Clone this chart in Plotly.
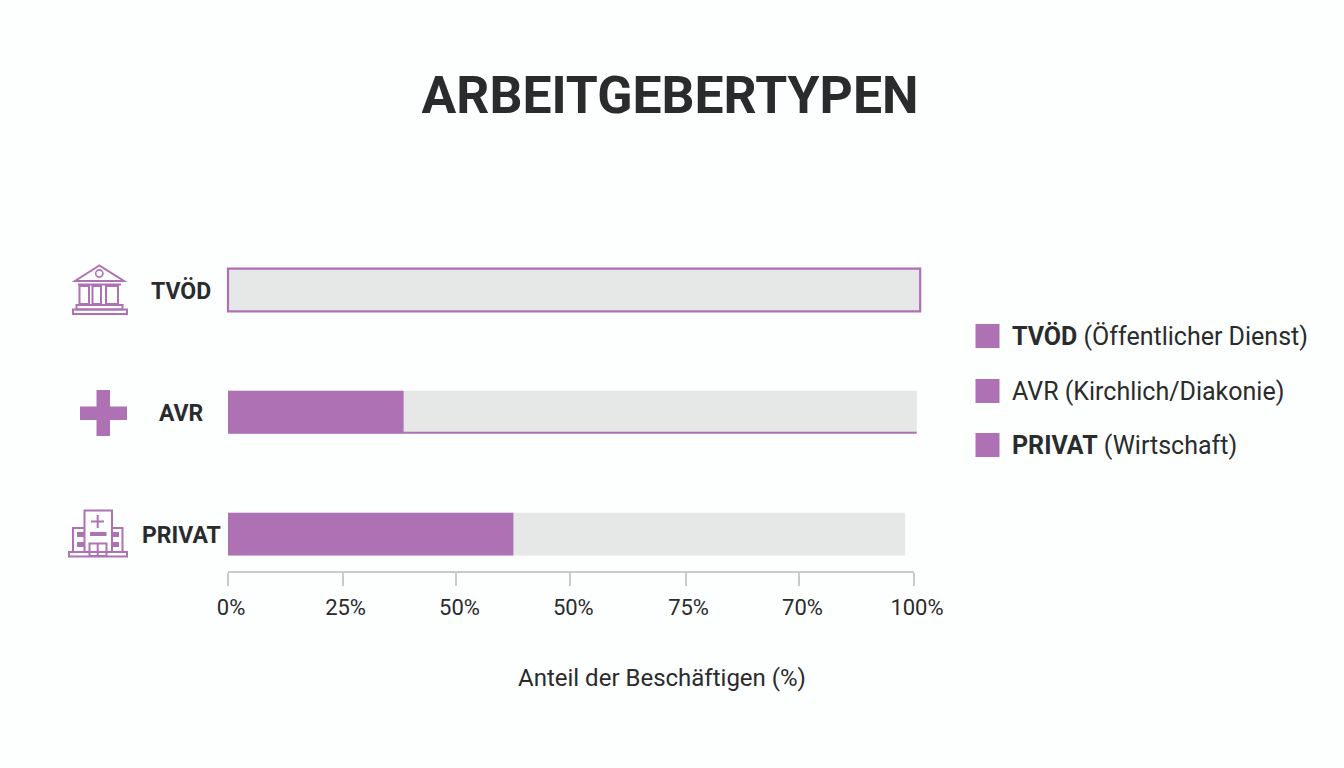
import plotly.graph_objects as go

categories = [0, 1, 2]
category_labels = ["TVÖD", "AVR", "PRIVAT"]
background_values = [100.9, 100.4, 98.7]
share_values = [0, 25.6, 41.6]
tick_positions = [0, 16.7, 33.3, 49.9, 66.7, 83.3, 100]
tick_labels = ["0%", "25%", "50%", "50%", "75%", "70%", "100%"]
legend_labels = ["<b>TVÖD</b> (Öffentlicher Dienst)", "AVR (Kirchlich/Diakonie)", "<b>PRIVAT</b> (Wirtschaft)"]

PURPLE = "#AE72B4"
GREY = "#E6E7E7"
DARK = "#2A2B2D"
BG = "#FDFEFE"
# Visible tick axis spans AX0..AX1; the plotting frame is a little wider so outlined bars fit.
AX0, AX1 = 228, 914
L, R, T, B = 221, 926, 229, 571
FONT = "Roboto"
PER_UNIT = (AX1 - AX0) / 100


def fx(x):
    return (x - L) / (R - L)


def fy(y):
    return (B - y) / (B - T)


def rect(x0, y0, x1, y1, fill=None, width=2):
    return dict(type="rect", xref="paper", yref="paper", x0=fx(x0), x1=fx(x1), y0=fy(y0), y1=fy(y1),
                fillcolor=fill if fill else "rgba(0,0,0,0)",
                line=dict(color=PURPLE, width=0 if fill else width), layer="above")


def path(points, closed=False, width=2):
    d = "M " + " L ".join(f"{fx(x):.5f},{fy(y):.5f}" for x, y in points) + (" Z" if closed else "")
    return dict(type="path", xref="paper", yref="paper", path=d, line=dict(color=PURPLE, width=width),
                fillcolor="rgba(0,0,0,0)", layer="above")


def circle(cx, cy, r):
    return dict(type="circle", xref="paper", yref="paper", x0=fx(cx - r), x1=fx(cx + r), y0=fy(cy + r), y1=fy(cy - r),
                line=dict(color=PURPLE, width=1.6), layer="above")


fig = go.Figure()
fig.add_trace(go.Bar(
    y=categories, x=background_values, orientation="h", width=0.35, xaxis="x", yaxis="y",
    marker=dict(color=GREY, line=dict(color=[PURPLE, GREY, GREY], width=[2.2, 0, 0])),
    showlegend=False, name="Gesamt"))
fig.add_trace(go.Bar(
    y=categories, x=share_values, orientation="h", width=0.35, xaxis="x2", yaxis="y",
    marker=dict(color=PURPLE, line=dict(width=0)), showlegend=False, name="Anteil"))

shapes = [
    # AVR baseline under the bar
    dict(type="line", xref="x", yref="y", x0=0, x1=background_values[1], y0=1.17, y1=1.17,
         line=dict(color=PURPLE, width=2), layer="above"),
    # Bank icon
    path([(99.3, 265.5), (75, 281), (124, 281)], closed=True),
    circle(99.3, 273.5, 3.6),
    path([(78, 284.5), (121, 284.5)]),
    rect(79.5, 286, 89, 304),
    rect(92.5, 286, 101, 304),
    rect(106, 286, 118, 304),
    rect(76.5, 305, 122.5, 309.5),
    rect(73, 309.5, 127, 314),
    # Cross icon
    rect(96.5, 390, 110, 436, fill=PURPLE),
    rect(80, 406.5, 127, 420, fill=PURPLE),
    # Hospital icon
    path([(84.5, 552), (84.5, 510.5), (112, 510.5), (112, 552)]),
    path([(84.5, 528), (73, 528), (73, 552)]),
    path([(112, 528), (122.5, 528), (122.5, 552)]),
    rect(69, 552, 127, 556.5),
    path([(97.7, 515), (97.7, 528)]),
    path([(91, 521.5), (104, 521.5)]),
    rect(90, 532, 106.5, 536, fill=PURPLE),
    rect(89.5, 543.5, 106.5, 556),
    path([(97.7, 543.5), (97.7, 556)]),
    rect(77, 532, 84, 537, fill=PURPLE),
    rect(77, 542, 84, 547, fill=PURPLE),
    rect(112, 532, 119, 537, fill=PURPLE),
    rect(112, 542, 119, 547, fill=PURPLE),
]

annotations = []
for cat, label in zip(categories, category_labels):
    annotations.append(dict(xref="paper", yref="y", x=fx(181), y=cat + 0.01, text=f"<b>{label}</b>", showarrow=False,
                            xanchor="center", yanchor="middle", font=dict(family=FONT, size=23, color=DARK)))

for cy, label in zip([336, 391, 445], legend_labels):
    shapes.append(rect(975.5, cy - 12, 999.5, cy + 12, fill=PURPLE))
    annotations.append(dict(xref="paper", yref="paper", x=fx(1010), y=fy(cy), text=label, showarrow=False,
                            xanchor="left", yanchor="middle", font=dict(family=FONT, size=25, color=DARK)))

annotations.append(dict(xref="paper", yref="paper", x=fx(662), y=fy(678), text="Anteil der Beschäftigen (%)",
                        showarrow=False, xanchor="center", yanchor="middle",
                        font=dict(family=FONT, size=24, color=DARK)))

fig.update_layout(
    width=1344, height=768, autosize=False,
    margin=dict(l=L, r=1344 - R, t=T, b=768 - B, pad=0),
    paper_bgcolor=BG, plot_bgcolor="rgba(0,0,0,0)",
    barmode="overlay",
    title=dict(text="<b>ARBEITGEBERTYPEN</b>", x=670 / 1344, xref="container", xanchor="center",
               y=1 - 95 / 768, yref="container", yanchor="middle",
               font=dict(family=FONT, size=51.7, color=DARK)),
    xaxis=dict(domain=[0, 1], range=[(L - AX0) / PER_UNIT, (R - AX0) / PER_UNIT], visible=False),
    xaxis2=dict(domain=[fx(AX0), fx(AX1)], range=[0, 100], anchor="y", side="bottom",
                tickmode="array", tickvals=tick_positions, ticktext=tick_labels,
                showgrid=False, zeroline=False, showline=True, linecolor="#C9CACA", linewidth=2,
                ticks="outside", ticklen=13, tickcolor="#C9CACA", tickwidth=1.5,
                ticklabelshift=3, ticklabelstandoff=3,
                tickfont=dict(family=FONT, size=22, color=DARK)),
    yaxis=dict(range=[2.303, -0.5], tickmode="array", tickvals=categories, showticklabels=False,
               showgrid=False, zeroline=False, showline=False, ticks=""),
    shapes=shapes,
    annotations=annotations,
)

fig.write_html("out.html", config=dict(displayModeBar=False),
               post_script="document.body.style.margin='0';document.body.style.background='#FDFEFE';")
